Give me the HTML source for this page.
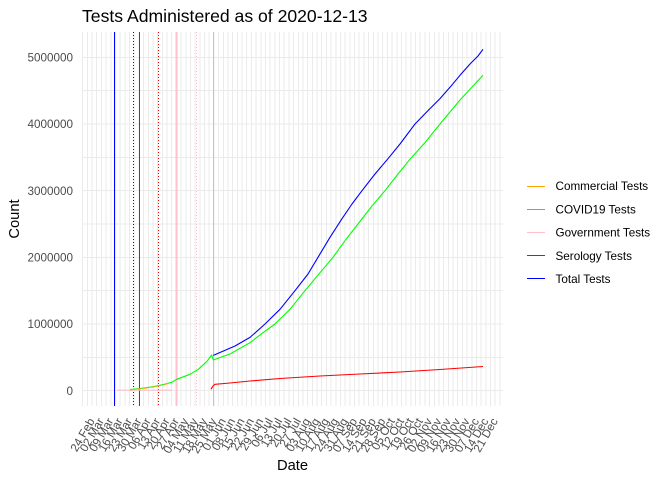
<!DOCTYPE html>
<html><head><meta charset="utf-8"><style>
html,body{margin:0;padding:0;background:#fff;}
svg{display:block;font-family:"Liberation Sans",sans-serif;}
</style></head><body>
<svg width="672" height="480" viewBox="0 0 672 480" xmlns="http://www.w3.org/2000/svg">
<rect width="672" height="480" fill="#fff"/>
<!-- gridlines -->
<g stroke="#EBEBEB" stroke-width="1" shape-rendering="crispEdges" id="grid">
</g>
<script>
(function(){
var ns="http://www.w3.org/2000/svg";
var g=document.getElementById("grid");
for(var k=-2;k<=87;k++){var x=92+k*4.68859;var l=document.createElementNS(ns,"line");l.setAttribute("x1",x);l.setAttribute("x2",x);l.setAttribute("y1",32);l.setAttribute("y2",406);g.appendChild(l);}
for(var m=0;m<=10;m++){var y=390.7-m*0.5*66.68;var l=document.createElementNS(ns,"line");l.setAttribute("x1",82);l.setAttribute("x2",503);l.setAttribute("y1",y);l.setAttribute("y2",y);g.appendChild(l);}
})();
</script>
<!-- event vertical lines -->
<g stroke-width="1" fill="none" shape-rendering="crispEdges">
<line x1="114.5" y1="32" x2="114.5" y2="406" stroke="#0000FF"/>
<line x1="133.5" y1="32" x2="133.5" y2="406" stroke="#0000FF" stroke-dasharray="1 2"/>
<line x1="139.5" y1="32" x2="139.5" y2="406" stroke="#FF0000"/>
<line x1="158.5" y1="32" x2="158.5" y2="406" stroke="#FF0000" stroke-dasharray="1 2"/>
<line x1="176.5" y1="32" x2="176.5" y2="406" stroke="#FFC0CB" stroke-width="2"/>
<line x1="196.5" y1="32" x2="196.5" y2="406" stroke="#FFC0CB" stroke-dasharray="1 2"/>
<line x1="213.5" y1="32" x2="213.5" y2="406" stroke="#FFC81E"/>
</g>
<!-- series -->
<g fill="none" stroke-width="1.1" stroke-linejoin="round">
<line x1="117" y1="390.2" x2="172" y2="390.2" stroke="#FFC0CB"/>
<polyline stroke="#00FF00" points="130,389.5 140,388.5 153.3,386.7 163.3,384.5 171.7,382.3 176.7,379.3 190,374.3 198.3,369.3 206.7,361.7 211.7,355 213.3,360 230,354 250,342.7 262,333.4 275,324 290,309.3 305,290.7 320,272.7 333,257.3 345,240.7 358,224 372,206 385,190.7 398,174 410,159.3 425,142.6 440,124 450,112 460,100 470,89.3 478,80.6 483,75.3"/>
<polyline stroke="#FFA500" stroke-dasharray="4 3" points="130,389.8 140,388.8 153.3,387 163.3,384.8 171.7,382.6"/>
<polyline stroke="#0000FF" points="213.3,355.4 235,346 250,337.4 265,324 280,309.3 295,290.7 308,274 318,257.3 330,237.3 342,218.7 352,204 362,190.7 375,174 388,158.7 400,144 415,124 428,110.6 440,98.6 450,87.3 460,75.3 470,64 478,56 483,49.3"/>
<polyline stroke="#FF0000" points="211,389.3 213,386 215,384.3 230,383 250,381 280,378.5 320,376 360,374 400,372 440,369.5 483,366.5"/>
</g>
<!-- y tick labels -->
<g font-size="11.7" fill="#4D4D4D" text-anchor="end">
<text x="73" y="394.9">0</text>
<text x="73" y="328.2">1000000</text>
<text x="73" y="261.5">2000000</text>
<text x="73" y="194.9">3000000</text>
<text x="73" y="128.2">4000000</text>
<text x="73" y="61.5">5000000</text>
</g>
<!-- x tick labels -->
<g font-size="11.7" fill="#4D4D4D" text-anchor="end">
<text transform="translate(95,421) rotate(-60)">24 Feb</text>
<text transform="translate(104.38,421) rotate(-60)">02 Mar</text>
<text transform="translate(113.75,421) rotate(-60)">09 Mar</text>
<text transform="translate(123.13,421) rotate(-60)">16 Mar</text>
<text transform="translate(132.51,421) rotate(-60)">23 Mar</text>
<text transform="translate(141.89,421) rotate(-60)">30 Mar</text>
<text transform="translate(151.26,421) rotate(-60)">06 Apr</text>
<text transform="translate(160.64,421) rotate(-60)">13 Apr</text>
<text transform="translate(170.02,421) rotate(-60)">20 Apr</text>
<text transform="translate(179.39,421) rotate(-60)">27 Apr</text>
<text transform="translate(188.77,421) rotate(-60)">04 May</text>
<text transform="translate(198.15,421) rotate(-60)">11 May</text>
<text transform="translate(207.53,421) rotate(-60)">18 May</text>
<text transform="translate(216.90,421) rotate(-60)">25 May</text>
<text transform="translate(226.28,421) rotate(-60)">01 Jun</text>
<text transform="translate(235.66,421) rotate(-60)">08 Jun</text>
<text transform="translate(245.03,421) rotate(-60)">15 Jun</text>
<text transform="translate(254.41,421) rotate(-60)">22 Jun</text>
<text transform="translate(263.79,421) rotate(-60)">29 Jun</text>
<text transform="translate(273.16,421) rotate(-60)">06 Jul</text>
<text transform="translate(282.54,421) rotate(-60)">13 Jul</text>
<text transform="translate(291.92,421) rotate(-60)">20 Jul</text>
<text transform="translate(301.30,421) rotate(-60)">27 Jul</text>
<text transform="translate(310.67,421) rotate(-60)">03 Aug</text>
<text transform="translate(320.05,421) rotate(-60)">10 Aug</text>
<text transform="translate(329.43,421) rotate(-60)">17 Aug</text>
<text transform="translate(338.80,421) rotate(-60)">24 Aug</text>
<text transform="translate(348.18,421) rotate(-60)">31 Aug</text>
<text transform="translate(357.56,421) rotate(-60)">07 Sep</text>
<text transform="translate(366.94,421) rotate(-60)">14 Sep</text>
<text transform="translate(376.31,421) rotate(-60)">21 Sep</text>
<text transform="translate(385.69,421) rotate(-60)">28 Sep</text>
<text transform="translate(395.07,421) rotate(-60)">05 Oct</text>
<text transform="translate(404.44,421) rotate(-60)">12 Oct</text>
<text transform="translate(413.82,421) rotate(-60)">19 Oct</text>
<text transform="translate(423.20,421) rotate(-60)">26 Oct</text>
<text transform="translate(432.58,421) rotate(-60)">02 Nov</text>
<text transform="translate(441.95,421) rotate(-60)">09 Nov</text>
<text transform="translate(451.33,421) rotate(-60)">16 Nov</text>
<text transform="translate(460.71,421) rotate(-60)">23 Nov</text>
<text transform="translate(470.08,421) rotate(-60)">30 Nov</text>
<text transform="translate(479.46,421) rotate(-60)">07 Dec</text>
<text transform="translate(488.84,421) rotate(-60)">14 Dec</text>
<text transform="translate(498.22,421) rotate(-60)">21 Dec</text>
</g>
<!-- titles -->
<text x="82" y="22" font-size="17.6" fill="#000">Tests Administered as of 2020-12-13</text>
<text x="292.5" y="470" font-size="14.7" fill="#000" text-anchor="middle">Date</text>
<text transform="translate(19,219) rotate(-90)" font-size="14.7" fill="#000" text-anchor="middle">Count</text>
<!-- legend -->
<g stroke-width="1" shape-rendering="crispEdges">
<line x1="527" y1="186.5" x2="545" y2="186.5" stroke="#FFA500"/>
<line x1="527" y1="209.5" x2="545" y2="209.5" stroke="#00FF00"/>
<line x1="527" y1="232.5" x2="545" y2="232.5" stroke="#FFC0CB"/>
<line x1="527" y1="255.5" x2="545" y2="255.5" stroke="#FF0000"/>
<line x1="527" y1="278.5" x2="545" y2="278.5" stroke="#0000FF"/>
</g>
<g font-size="11.7" fill="#000">
<text x="555.5" y="190.2">Commercial Tests</text>
<text x="555.5" y="213.4">COVID19 Tests</text>
<text x="555.5" y="236.6">Government Tests</text>
<text x="555.5" y="259.8">Serology Tests</text>
<text x="555.5" y="283">Total Tests</text>
</g>
</svg>
</body></html>
